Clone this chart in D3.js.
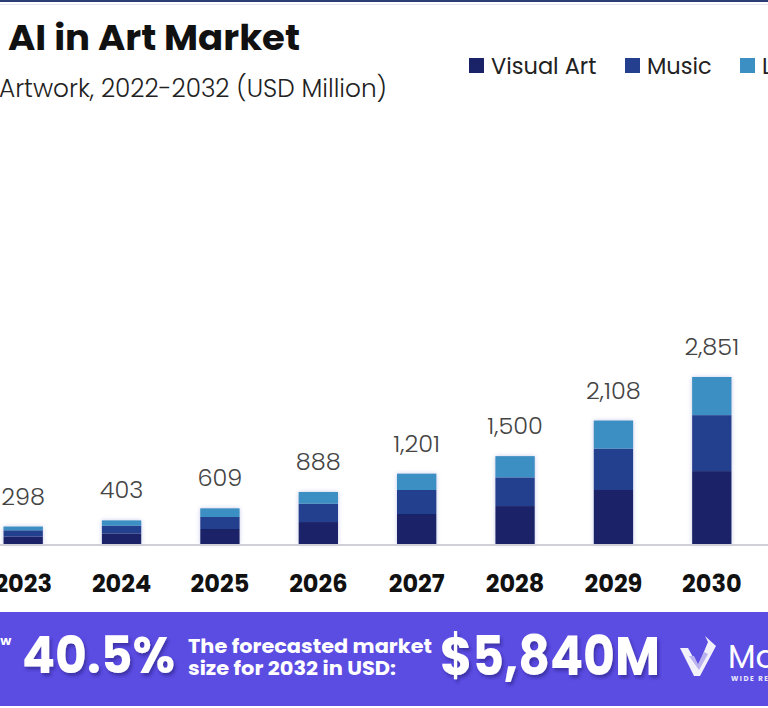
<!DOCTYPE html>
<html>
<head>
<meta charset="utf-8">
<script src="https://cdn.jsdelivr.net/npm/d3@7"></script>
<style>
  html, body { margin: 0; padding: 0; background: #fff; }
  svg { display: block; }
</style>
</head>
<body>
<div id="chart"></div>
<script>
// Data (USD Million)
const years = ["2023", "2024", "2025", "2026", "2027", "2028", "2029", "2030"];
const visualArt = [125, 182, 256, 375, 512, 648, 922, 1245];
const music = [109, 130, 205, 313, 410, 489, 705, 955];
const literature = [64, 91, 148, 200, 279, 363, 481, 651];
const totals = [298, 403, 609, 888, 1201, 1500, 2108, 2851];
const seriesNames = ["Visual Art", "Music", "Literature"];
const seriesColors = ["#1a2368", "#243f8e", "#3b8fc2"];

const W = 768, H = 708;
const baseY = 544;

const svg = d3.select("#chart").append("svg")
    .attr("width", W)
    .attr("height", H)
    .style("font-family", "Poppins, 'Noto Sans', sans-serif");

const defs = svg.append("defs");
defs.append("filter").attr("id", "barShadow")
    .attr("x", "-30%").attr("y", "-30%").attr("width", "160%").attr("height", "160%")
    .append("feDropShadow")
    .attr("dx", 0).attr("dy", 0).attr("stdDeviation", 2)
    .attr("flood-color", "#7f86cf").attr("flood-opacity", 0.45);
defs.append("filter").attr("id", "textShadow")
    .attr("x", "-10%").attr("y", "-20%").attr("width", "130%").attr("height", "150%")
    .append("feDropShadow")
    .attr("dx", 2).attr("dy", 3).attr("stdDeviation", 1.5)
    .attr("flood-color", "#2a1f80").attr("flood-opacity", 0.55);

// top border
svg.append("rect").attr("x", 0).attr("y", 0).attr("width", W).attr("height", 2).attr("fill", "#2d3d78");
svg.append("rect").attr("x", 0).attr("y", 4).attr("width", W).attr("height", 1).attr("fill", "#e3e5f3");

// titles (cropped on the left in the reference)
svg.append("text")
    .attr("x", 8).attr("y", 50)
    .attr("font-size", 35).attr("font-weight", 700)
    .attr("fill", "#111")
    .attr("textLength", 292).attr("lengthAdjust", "spacingAndGlyphs")
    .text("AI in Art Market");

svg.append("text")
    .attr("x", -1).attr("y", 97)
    .attr("font-size", 25).attr("font-weight", 300)
    .attr("fill", "#222")
    .attr("textLength", 388).attr("lengthAdjust", "spacingAndGlyphs")
    .text("Artwork, 2022-2032 (USD Million)");

// legend
const legendX = [469, 625, 740];
const legend = svg.append("g");
seriesNames.forEach((name, i) => {
    const g = legend.append("g").attr("transform", `translate(${legendX[i]},58)`);
    g.append("rect").attr("width", 15).attr("height", 15).attr("fill", seriesColors[i]);
    g.append("text")
        .attr("x", 22).attr("y", 16)
        .attr("font-size", 22.5).attr("fill", "#222")
        .text(name);
});

// scales
const x = d3.scaleBand()
    .domain(years)
    .range([-26, 761])
    .paddingInner(0.6)
    .paddingOuter(0.3);

const y = d3.scaleLinear()
    .domain([0, 2851])
    .range([baseY, 377]);

const table = years.map((yr, i) => ({
    year: yr,
    "Visual Art": visualArt[i],
    "Music": music[i],
    "Literature": literature[i],
    total: totals[i]
}));

const stacked = d3.stack().keys(seriesNames)(table);

const bars = svg.append("g").attr("filter", "url(#barShadow)");
bars.selectAll("g")
    .data(stacked)
    .join("g")
    .attr("fill", (d, i) => seriesColors[i])
    .selectAll("rect")
    .data(d => d)
    .join("rect")
    .attr("x", d => x(d.data.year))
    .attr("width", x.bandwidth())
    .attr("y", d => y(d[1]))
    .attr("height", d => y(d[0]) - y(d[1]));

// axis baseline
svg.append("line")
    .attr("x1", 0).attr("x2", W)
    .attr("y1", baseY + 1).attr("y2", baseY + 1)
    .attr("stroke", "#d0d0d6").attr("stroke-width", 2);

// value labels
svg.append("g").selectAll("text")
    .data(table)
    .join("text")
    .attr("x", d => x(d.year) + x.bandwidth() / 2)
    .attr("y", d => y(d.total) - 22)
    .attr("text-anchor", "middle")
    .attr("font-size", 24).attr("font-weight", 300)
    .attr("fill", "#444")
    .text(d => d3.format(",")(d.total));

// x axis
const xAxis = svg.append("g")
    .attr("transform", `translate(0,${baseY})`)
    .call(d3.axisBottom(x).tickSize(0));
xAxis.select(".domain").remove();
xAxis.selectAll("text")
    .attr("y", 48).attr("dy", 0)
    .attr("font-family", "Poppins, 'Noto Sans', sans-serif")
    .attr("font-size", 24).attr("font-weight", 700)
    .attr("fill", "#111");

// bottom banner
const banner = svg.append("g");
banner.append("rect")
    .attr("x", 0).attr("y", 612).attr("width", W).attr("height", 94)
    .attr("fill", "#5b4ce2");

banner.append("text")
    .attr("x", 0).attr("y", 645)
    .attr("font-size", 11).attr("font-weight", 700).attr("fill", "#fff")
    .text("W");

banner.append("text")
    .attr("x", 22).attr("y", 673)
    .attr("font-size", 51).attr("font-weight", 700).attr("fill", "#fff")
    .attr("filter", "url(#textShadow)")
    .attr("textLength", 153).attr("lengthAdjust", "spacingAndGlyphs")
    .text("40.5%");

banner.append("text")
    .attr("x", 188).attr("y", 653)
    .attr("font-size", 20).attr("font-weight", 700).attr("fill", "#fff")
    .attr("textLength", 244).attr("lengthAdjust", "spacingAndGlyphs")
    .text("The forecasted market");
banner.append("text")
    .attr("x", 188).attr("y", 675)
    .attr("font-size", 20).attr("font-weight", 700).attr("fill", "#fff")
    .attr("textLength", 208).attr("lengthAdjust", "spacingAndGlyphs")
    .text("size for 2032 in USD:");

banner.append("text")
    .attr("x", 440).attr("y", 675)
    .attr("font-size", 54).attr("font-weight", 700).attr("fill", "#fff")
    .attr("filter", "url(#textShadow)")
    .attr("textLength", 220).attr("lengthAdjust", "spacingAndGlyphs")
    .text("$5,840M");

// logo mark
const logo = banner.append("g").attr("transform", "translate(680,636)");
logo.append("path")
    .attr("d", "M0,12 L8,12 L18,30 L28,6 L25,0 L36,10 L20,40 L14,40 Z")
    .attr("fill", "#f1f0fb");
logo.append("path")
    .attr("d", "M9,20 L14,20 L18,28 L24,16 L28,18 L19,34 Z")
    .attr("fill", "#b9b2ef");

banner.append("text")
    .attr("x", 728).attr("y", 668)
    .attr("font-size", 32).attr("fill", "#fff")
    .text("Market.us");
banner.append("text")
    .attr("x", 731).attr("y", 681)
    .attr("font-size", 7).attr("font-weight", 700).attr("fill", "#e8e6fb")
    .attr("letter-spacing", 1.5)
    .text("WIDE RESEARCH");
</script>
</body>
</html>
